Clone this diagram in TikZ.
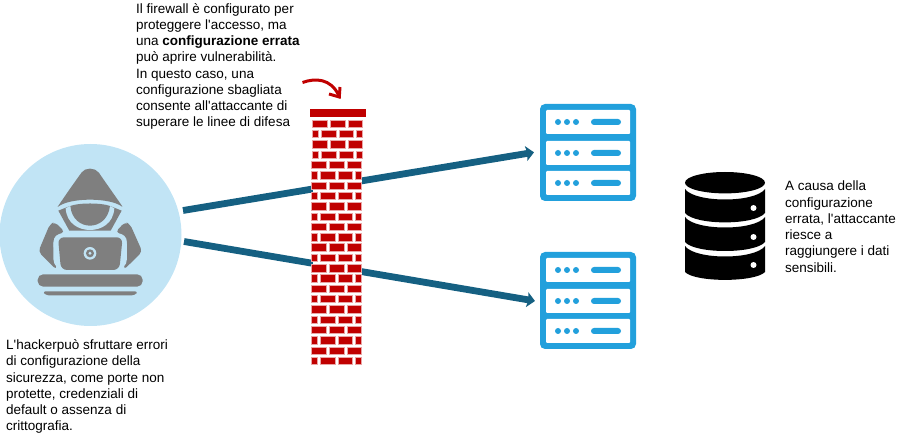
\documentclass[tikz,border=0pt]{standalone}
\usepackage{fontspec}
\setmainfont{Liberation Sans}
\usetikzlibrary{arrows.meta}
\definecolor{brick}{HTML}{C00000}
\definecolor{teal}{HTML}{156082}
\definecolor{srvblue}{HTML}{22A0DC}
\definecolor{halo}{HTML}{C1E4F5}
\definecolor{hgray}{HTML}{7F7F7F}
\newcommand{\aq}{\textquotesingle{}}
\tikzset{
  note/.style={align=left,anchor=north west,inner sep=0pt,font=\fontsize{13.5}{16.25}\selectfont},
  link/.style={draw=teal,line width=6.8pt,-{Stealth[length=8pt,width=15pt,inset=1.5pt]}},
  srvbox/.style={fill=srvblue,rounded corners=5pt,minimum width=96pt,minimum height=97pt,inner sep=0pt},
  pane/.style={fill=white,rounded corners=1pt},
  srvdot/.style={fill=srvblue},
  hk/.style={fill=hgray},
  hkl/.style={fill=halo},
  brk/.style={fill=brick,draw=brick!35,line width=0.7pt},
}
\newcommand{\srvicon}[1]{%
  \begin{scope}[shift={(#1)}]
    \foreach \yy in {-42.5,-11.5,18.5}{
      \fill[pane] (-42,\yy) rectangle (42,\yy+24);
      \foreach \xx in {-30,-21,-12}{\fill[srvdot] (\xx,\yy+12) circle (3);}
      \fill[srvdot,rounded corners=3pt] (3,\yy+9) rectangle (33,\yy+15);
    }
  \end{scope}}
\begin{document}
\begin{tikzpicture}[x=1pt,y=-1pt]
\useasboundingbox (0,0) rectangle (900,435);
% hacker
\node[circle,fill=halo,minimum size=182pt,inner sep=0pt] (hacker) at (90.5,235) {};
\begin{scope}[shift={(0,140)},x=0.3333pt,y=-0.3333pt]
  % hood lower part
  \fill[hk] (175,212) -- (205,200) -- (335,200) -- (365,212) -- (332,272) -- (208,272) -- cycle;
  % hood
  \fill[hk,rounded corners=1pt] (172,202) .. controls (200,160) and (225,125) .. (243,100)
     .. controls (255,82) and (285,82) .. (298,100)
     .. controls (315,125) and (340,160) .. (369,202)
     .. controls (330,172) and (210,172) .. cycle;
  % light band around the face
  \fill[hkl] (197,205) .. controls (200,250) and (235,270) .. (270,270)
     .. controls (305,270) and (340,250) .. (343,205)
     .. controls (320,188) and (220,188) .. cycle;
  \fill[hk] (211,198) .. controls (215,240) and (245,257) .. (270,257)
     .. controls (295,257) and (325,240) .. (330,198)
     .. controls (305,188) and (235,188) .. cycle;
  % shoulders
  \fill[hk,rounded corners=4pt] (165,246) -- (150,252) -- (115,335) -- (170,390) -- (159,305) -- (165,285) -- (195,277) -- cycle;
  \fill[hk,rounded corners=4pt] (375,246) -- (390,252) -- (427,335) -- (371,390) -- (382,305) -- (376,285) -- (346,277) -- cycle;
  % laptop
  \fill[hkl,rounded corners=12pt] (160,392) -- (160,280) -- (381,280) -- (381,392) -- cycle;
  \fill[hk,rounded corners=6pt] (183,390) -- (174,292) -- (368,292) -- (358,390) -- cycle;
  \fill[hkl] (270,340) circle (19);
  \fill[hk] (270,340) circle (12);
  \fill[hkl] (270,340) circle (5);
  % table
  \fill[hk,rounded corners=5.5pt] (113,403) rectangle (428,440);
  \fill[hk,rounded corners=3pt] (128,454) -- (414,454) -- (405,466) -- (137,466) -- cycle;
\end{scope}
% servers
\node[srvbox] (srv1) at (588,152.5) {};
\srvicon{588,152.5}
\node[srvbox] (srv2) at (588,300.5) {};
\srvicon{588,300.5}
% connectors
\coordinate (outa) at (183,210.5);
\coordinate (outb) at (184,241.5);
\coordinate (ina) at (534,152.3);
\coordinate (inb) at (535,301);
\draw[link] (outa) -- (ina);
\draw[link] (outb) -- (inb);
% wall
\fill[white] (313,117) rectangle (362,366);
\fill[brick] (310,109) rectangle (366,117);
\foreach \r in {0,...,23}{
  \pgfmathsetmacro{\yt}{120+10.32*\r}
  \pgfmathsetmacro{\yb}{\yt+7.4}
  \pgfmathtruncatemacro{\off}{\r<4?1:0}
  \pgfmathtruncatemacro{\odd}{mod(\r,2)}
  \begin{scope}[xshift=\off pt]
  \ifnum\odd=0
    \path[brk] (311.7,\yt) rectangle (326.4,\yb);
    \path[brk] (329.4,\yt) rectangle (344,\yb);
    \path[brk] (347,\yt) rectangle (361.7,\yb);
  \else
    \path[brk] (311.7,\yt) rectangle (317.5,\yb);
    \path[brk] (320.4,\yt) rectangle (335.2,\yb);
    \path[brk] (338,\yt) rectangle (352.7,\yb);
    \path[brk] (355.7,\yt) rectangle (361.7,\yb);
  \fi
  \end{scope}
}
% red curved arrow
\coordinate (ca) at (302.5,82.5);
\coordinate (cb) at (339,96);
\draw[brick,line width=3pt] (ca) .. controls (315,78) and (331,78) .. (cb);
\draw[brick,line width=3pt,line join=miter] (340,87) -- (339.3,97) -- (329,94);
% database
\fill[black] (725,182.7) ellipse (40 and 10.7);
\foreach \ta/\ba/\tc/\bc in {189/213/200/222.5, 217/242/228/251, 246/272/257/279.5}{
  \fill[black] (685,\ta) .. controls (695,\tc+3) and (755,\tc+3) .. (765,\ta)
     -- (765,\ba) .. controls (755,\bc+3) and (695,\bc+3) .. (685,\ba) -- cycle;
}
\foreach \yy in {208,237,265}{\fill[white] (753.5,\yy) circle (3);}
% texts
\node[note] (t1) at (136,3) {Il firewall è configurato per\\proteggere l\aq accesso, ma\\una \textbf{configurazione errata}\\può aprire vulnerabilità.\\In questo caso, una\\configurazione sbagliata\\consente all\aq attaccante di\\superare le linee di difesa};
\node[note] (t2) at (6,339.5) {L\aq hackerpuò sfruttare errori\\di configurazione della\\sicurezza, come porte non\\protette, credenziali di\\default o assenza di\\crittografia.};
\node[note] (t3) at (785,181) {A causa della\\configurazione\\errata, l\aq attaccante\\riesce a\\raggiungere i dati\\sensibili.};
\end{tikzpicture}
\end{document}
